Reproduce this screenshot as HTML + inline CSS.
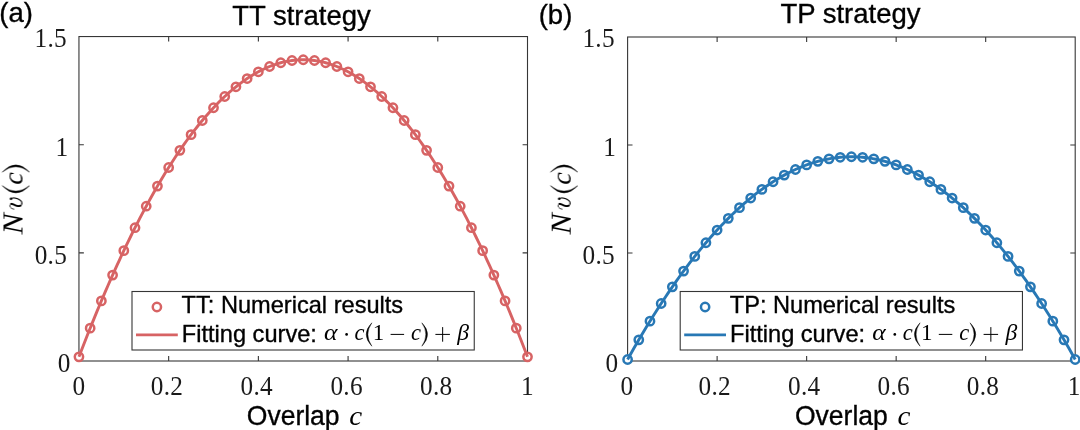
<!DOCTYPE html>
<html><head><meta charset="utf-8"><title>fig</title>
<style>
html,body{margin:0;padding:0;background:#fff;}
body{width:1080px;height:430px;overflow:hidden;}
svg{display:block;}
text{fill:#000;}
.tk{font-family:"Liberation Serif",serif;font-size:26.6px;fill:#1a1a1a;letter-spacing:.3px;}
.ti{font-family:"Liberation Sans",sans-serif;font-size:27.5px;stroke:#000;stroke-width:.35px;}
.lb{font-family:"Liberation Sans",sans-serif;font-size:27.3px;stroke:#000;stroke-width:.35px;}
.lg{font-family:"Liberation Sans",sans-serif;font-size:23.6px;stroke:#000;stroke-width:.35px;}
.mi{font-family:"Liberation Serif",serif;font-style:italic;}
.mr{font-family:"Liberation Serif",serif;font-style:normal;}
</style></head><body>
<svg width="1080" height="430" viewBox="0 0 1080 430">
<rect width="1080" height="430" fill="#fff"/>
<g>
<rect x="78.95" y="36.55" width="448.55" height="324.45" fill="none" stroke="#363636" stroke-width="1.1"/>
<path d="M168.66 361v-4.9M168.66 36.55v4.9M258.37 361v-4.9M258.37 36.55v4.9M348.08 361v-4.9M348.08 36.55v4.9M437.79 361v-4.9M437.79 36.55v4.9M78.95 252.85h4.9M527.5 252.85h-4.9M78.95 144.7h4.9M527.5 144.7h-4.9" stroke="#363636" stroke-width="1.1" fill="none"/>
<circle cx="78.95" cy="356.85" r="4.15" fill="#fff" stroke="#D76364" stroke-width="2.5"/>
<circle cx="90.16" cy="328.19" r="4.15" fill="#fff" stroke="#D76364" stroke-width="2.5"/>
<circle cx="101.38" cy="300.93" r="4.15" fill="#fff" stroke="#D76364" stroke-width="2.5"/>
<circle cx="112.59" cy="275.1" r="4.15" fill="#fff" stroke="#D76364" stroke-width="2.5"/>
<circle cx="123.81" cy="250.69" r="4.15" fill="#fff" stroke="#D76364" stroke-width="2.5"/>
<circle cx="135.02" cy="227.72" r="4.15" fill="#fff" stroke="#D76364" stroke-width="2.5"/>
<circle cx="146.23" cy="206.2" r="4.15" fill="#fff" stroke="#D76364" stroke-width="2.5"/>
<circle cx="157.45" cy="186.12" r="4.15" fill="#fff" stroke="#D76364" stroke-width="2.5"/>
<circle cx="168.66" cy="167.51" r="4.15" fill="#fff" stroke="#D76364" stroke-width="2.5"/>
<circle cx="179.87" cy="150.36" r="4.15" fill="#fff" stroke="#D76364" stroke-width="2.5"/>
<circle cx="191.09" cy="134.68" r="4.15" fill="#fff" stroke="#D76364" stroke-width="2.5"/>
<circle cx="202.3" cy="120.48" r="4.15" fill="#fff" stroke="#D76364" stroke-width="2.5"/>
<circle cx="213.51" cy="107.76" r="4.15" fill="#fff" stroke="#D76364" stroke-width="2.5"/>
<circle cx="224.73" cy="96.52" r="4.15" fill="#fff" stroke="#D76364" stroke-width="2.5"/>
<circle cx="235.94" cy="86.78" r="4.15" fill="#fff" stroke="#D76364" stroke-width="2.5"/>
<circle cx="247.16" cy="78.53" r="4.15" fill="#fff" stroke="#D76364" stroke-width="2.5"/>
<circle cx="258.37" cy="71.78" r="4.15" fill="#fff" stroke="#D76364" stroke-width="2.5"/>
<circle cx="269.58" cy="66.52" r="4.15" fill="#fff" stroke="#D76364" stroke-width="2.5"/>
<circle cx="280.8" cy="62.76" r="4.15" fill="#fff" stroke="#D76364" stroke-width="2.5"/>
<circle cx="292.01" cy="60.51" r="4.15" fill="#fff" stroke="#D76364" stroke-width="2.5"/>
<circle cx="303.23" cy="59.76" r="4.15" fill="#fff" stroke="#D76364" stroke-width="2.5"/>
<circle cx="314.44" cy="60.51" r="4.15" fill="#fff" stroke="#D76364" stroke-width="2.5"/>
<circle cx="325.65" cy="62.76" r="4.15" fill="#fff" stroke="#D76364" stroke-width="2.5"/>
<circle cx="336.87" cy="66.52" r="4.15" fill="#fff" stroke="#D76364" stroke-width="2.5"/>
<circle cx="348.08" cy="71.78" r="4.15" fill="#fff" stroke="#D76364" stroke-width="2.5"/>
<circle cx="359.29" cy="78.53" r="4.15" fill="#fff" stroke="#D76364" stroke-width="2.5"/>
<circle cx="370.51" cy="86.78" r="4.15" fill="#fff" stroke="#D76364" stroke-width="2.5"/>
<circle cx="381.72" cy="96.52" r="4.15" fill="#fff" stroke="#D76364" stroke-width="2.5"/>
<circle cx="392.94" cy="107.76" r="4.15" fill="#fff" stroke="#D76364" stroke-width="2.5"/>
<circle cx="404.15" cy="120.48" r="4.15" fill="#fff" stroke="#D76364" stroke-width="2.5"/>
<circle cx="415.36" cy="134.68" r="4.15" fill="#fff" stroke="#D76364" stroke-width="2.5"/>
<circle cx="426.58" cy="150.36" r="4.15" fill="#fff" stroke="#D76364" stroke-width="2.5"/>
<circle cx="437.79" cy="167.51" r="4.15" fill="#fff" stroke="#D76364" stroke-width="2.5"/>
<circle cx="449" cy="186.12" r="4.15" fill="#fff" stroke="#D76364" stroke-width="2.5"/>
<circle cx="460.22" cy="206.2" r="4.15" fill="#fff" stroke="#D76364" stroke-width="2.5"/>
<circle cx="471.43" cy="227.72" r="4.15" fill="#fff" stroke="#D76364" stroke-width="2.5"/>
<circle cx="482.64" cy="250.69" r="4.15" fill="#fff" stroke="#D76364" stroke-width="2.5"/>
<circle cx="493.86" cy="275.1" r="4.15" fill="#fff" stroke="#D76364" stroke-width="2.5"/>
<circle cx="505.07" cy="300.93" r="4.15" fill="#fff" stroke="#D76364" stroke-width="2.5"/>
<circle cx="516.29" cy="328.19" r="4.15" fill="#fff" stroke="#D76364" stroke-width="2.5"/>
<circle cx="527.5" cy="356.85" r="4.15" fill="#fff" stroke="#D76364" stroke-width="2.5"/>
<polyline points="78.95,356.85 81.19,351 83.44,345.21 85.68,339.48 87.92,333.81 90.16,328.19 92.41,322.62 94.65,317.11 96.89,311.66 99.13,306.27 101.38,300.93 103.62,295.65 105.86,290.43 108.11,285.26 110.35,280.15 112.59,275.1 114.83,270.1 117.08,265.16 119.32,260.28 121.56,255.46 123.81,250.69 126.05,245.98 128.29,241.33 130.53,236.74 132.78,232.2 135.02,227.72 137.26,223.3 139.5,218.94 141.75,214.63 143.99,210.39 146.23,206.2 148.48,202.07 150.72,197.99 152.96,193.98 155.2,190.02 157.45,186.12 159.69,182.28 161.93,178.5 164.17,174.78 166.42,171.11 168.66,167.51 170.9,163.96 173.15,160.47 175.39,157.04 177.63,153.67 179.87,150.36 182.12,147.1 184.36,143.91 186.6,140.77 188.84,137.7 191.09,134.68 193.33,131.72 195.57,128.82 197.82,125.98 200.06,123.2 202.3,120.48 204.54,117.82 206.79,115.21 209.03,112.67 211.27,110.18 213.51,107.76 215.76,105.39 218,103.09 220.24,100.84 222.49,98.65 224.73,96.52 226.97,94.46 229.21,92.45 231.46,90.5 233.7,88.61 235.94,86.78 238.19,85.01 240.43,83.3 242.67,81.65 244.91,80.06 247.16,78.53 249.4,77.06 251.64,75.65 253.88,74.3 256.13,73.01 258.37,71.78 260.61,70.6 262.86,69.49 265.1,68.44 267.34,67.45 269.58,66.52 271.83,65.65 274.07,64.84 276.31,64.09 278.55,63.4 280.8,62.76 283.04,62.19 285.28,61.68 287.53,61.23 289.77,60.84 292.01,60.51 294.25,60.24 296.5,60.03 298.74,59.88 300.98,59.79 303.23,59.76 305.47,59.79 307.71,59.88 309.95,60.03 312.2,60.24 314.44,60.51 316.68,60.84 318.92,61.23 321.17,61.68 323.41,62.19 325.65,62.76 327.9,63.4 330.14,64.09 332.38,64.84 334.62,65.65 336.87,66.52 339.11,67.45 341.35,68.44 343.59,69.49 345.84,70.6 348.08,71.78 350.32,73.01 352.57,74.3 354.81,75.65 357.05,77.06 359.29,78.53 361.54,80.06 363.78,81.65 366.02,83.3 368.26,85.01 370.51,86.78 372.75,88.61 374.99,90.5 377.24,92.45 379.48,94.46 381.72,96.52 383.96,98.65 386.21,100.84 388.45,103.09 390.69,105.39 392.94,107.76 395.18,110.18 397.42,112.67 399.66,115.21 401.91,117.82 404.15,120.48 406.39,123.2 408.63,125.98 410.88,128.82 413.12,131.72 415.36,134.68 417.61,137.7 419.85,140.77 422.09,143.91 424.33,147.1 426.58,150.36 428.82,153.67 431.06,157.04 433.3,160.47 435.55,163.96 437.79,167.51 440.03,171.11 442.28,174.78 444.52,178.5 446.76,182.28 449,186.12 451.25,190.02 453.49,193.98 455.73,197.99 457.97,202.07 460.22,206.2 462.46,210.39 464.7,214.63 466.95,218.94 469.19,223.3 471.43,227.72 473.67,232.2 475.92,236.74 478.16,241.33 480.4,245.98 482.64,250.69 484.89,255.46 487.13,260.28 489.37,265.16 491.62,270.1 493.86,275.1 496.1,280.15 498.34,285.26 500.59,290.43 502.83,295.65 505.07,300.93 507.32,306.27 509.56,311.66 511.8,317.11 514.04,322.62 516.29,328.19 518.53,333.81 520.77,339.48 523.01,345.21 525.26,351 527.5,356.85" fill="none" stroke="#D76364" stroke-width="2.9" stroke-linejoin="round"/>
<rect x="132" y="291.5" width="342.25" height="58.5" fill="#fff" stroke="#363636" stroke-width="1.1"/>
<circle cx="156.9" cy="307" r="4.15" fill="none" stroke="#D76364" stroke-width="2.5"/>
<line x1="136" x2="177.8" y1="334.8" y2="334.8" stroke="#D76364" stroke-width="2.7"/>
<circle cx="346.6" cy="334.4" r="1.35" fill="#000"/>
<path d="M390.6 334.4h13.5M435.4 334.4h14.5M442.65 327.1v14.6" stroke="#000" stroke-width="1" fill="none"/>
<rect x="627.6" y="37" width="447.6" height="324" fill="none" stroke="#363636" stroke-width="1.1"/>
<path d="M717.12 361v-4.9M717.12 37v4.9M806.64 361v-4.9M806.64 37v4.9M896.16 361v-4.9M896.16 37v4.9M985.68 361v-4.9M985.68 37v4.9M627.6 253h4.9M1075.2 253h-4.9M627.6 145h4.9M1075.2 145h-4.9" stroke="#363636" stroke-width="1.1" fill="none"/>
<circle cx="627.6" cy="359.49" r="4.15" fill="#fff" stroke="#2878B5" stroke-width="2.5"/>
<circle cx="638.79" cy="339.84" r="4.15" fill="#fff" stroke="#2878B5" stroke-width="2.5"/>
<circle cx="649.98" cy="321.17" r="4.15" fill="#fff" stroke="#2878B5" stroke-width="2.5"/>
<circle cx="661.17" cy="303.49" r="4.15" fill="#fff" stroke="#2878B5" stroke-width="2.5"/>
<circle cx="672.36" cy="286.81" r="4.15" fill="#fff" stroke="#2878B5" stroke-width="2.5"/>
<circle cx="683.55" cy="271.12" r="4.15" fill="#fff" stroke="#2878B5" stroke-width="2.5"/>
<circle cx="694.74" cy="256.43" r="4.15" fill="#fff" stroke="#2878B5" stroke-width="2.5"/>
<circle cx="705.93" cy="242.74" r="4.15" fill="#fff" stroke="#2878B5" stroke-width="2.5"/>
<circle cx="717.12" cy="230.05" r="4.15" fill="#fff" stroke="#2878B5" stroke-width="2.5"/>
<circle cx="728.31" cy="218.37" r="4.15" fill="#fff" stroke="#2878B5" stroke-width="2.5"/>
<circle cx="739.5" cy="207.69" r="4.15" fill="#fff" stroke="#2878B5" stroke-width="2.5"/>
<circle cx="750.69" cy="198.03" r="4.15" fill="#fff" stroke="#2878B5" stroke-width="2.5"/>
<circle cx="761.88" cy="189.38" r="4.15" fill="#fff" stroke="#2878B5" stroke-width="2.5"/>
<circle cx="773.07" cy="181.74" r="4.15" fill="#fff" stroke="#2878B5" stroke-width="2.5"/>
<circle cx="784.26" cy="175.12" r="4.15" fill="#fff" stroke="#2878B5" stroke-width="2.5"/>
<circle cx="795.45" cy="169.52" r="4.15" fill="#fff" stroke="#2878B5" stroke-width="2.5"/>
<circle cx="806.64" cy="164.93" r="4.15" fill="#fff" stroke="#2878B5" stroke-width="2.5"/>
<circle cx="817.83" cy="161.36" r="4.15" fill="#fff" stroke="#2878B5" stroke-width="2.5"/>
<circle cx="829.02" cy="158.81" r="4.15" fill="#fff" stroke="#2878B5" stroke-width="2.5"/>
<circle cx="840.21" cy="157.28" r="4.15" fill="#fff" stroke="#2878B5" stroke-width="2.5"/>
<circle cx="851.4" cy="156.77" r="4.15" fill="#fff" stroke="#2878B5" stroke-width="2.5"/>
<circle cx="862.59" cy="157.28" r="4.15" fill="#fff" stroke="#2878B5" stroke-width="2.5"/>
<circle cx="873.78" cy="158.81" r="4.15" fill="#fff" stroke="#2878B5" stroke-width="2.5"/>
<circle cx="884.97" cy="161.36" r="4.15" fill="#fff" stroke="#2878B5" stroke-width="2.5"/>
<circle cx="896.16" cy="164.93" r="4.15" fill="#fff" stroke="#2878B5" stroke-width="2.5"/>
<circle cx="907.35" cy="169.52" r="4.15" fill="#fff" stroke="#2878B5" stroke-width="2.5"/>
<circle cx="918.54" cy="175.12" r="4.15" fill="#fff" stroke="#2878B5" stroke-width="2.5"/>
<circle cx="929.73" cy="181.74" r="4.15" fill="#fff" stroke="#2878B5" stroke-width="2.5"/>
<circle cx="940.92" cy="189.38" r="4.15" fill="#fff" stroke="#2878B5" stroke-width="2.5"/>
<circle cx="952.11" cy="198.03" r="4.15" fill="#fff" stroke="#2878B5" stroke-width="2.5"/>
<circle cx="963.3" cy="207.69" r="4.15" fill="#fff" stroke="#2878B5" stroke-width="2.5"/>
<circle cx="974.49" cy="218.37" r="4.15" fill="#fff" stroke="#2878B5" stroke-width="2.5"/>
<circle cx="985.68" cy="230.05" r="4.15" fill="#fff" stroke="#2878B5" stroke-width="2.5"/>
<circle cx="996.87" cy="242.74" r="4.15" fill="#fff" stroke="#2878B5" stroke-width="2.5"/>
<circle cx="1008.06" cy="256.43" r="4.15" fill="#fff" stroke="#2878B5" stroke-width="2.5"/>
<circle cx="1019.25" cy="271.12" r="4.15" fill="#fff" stroke="#2878B5" stroke-width="2.5"/>
<circle cx="1030.44" cy="286.81" r="4.15" fill="#fff" stroke="#2878B5" stroke-width="2.5"/>
<circle cx="1041.63" cy="303.49" r="4.15" fill="#fff" stroke="#2878B5" stroke-width="2.5"/>
<circle cx="1052.82" cy="321.17" r="4.15" fill="#fff" stroke="#2878B5" stroke-width="2.5"/>
<circle cx="1064.01" cy="339.84" r="4.15" fill="#fff" stroke="#2878B5" stroke-width="2.5"/>
<circle cx="1075.2" cy="359.49" r="4.15" fill="#fff" stroke="#2878B5" stroke-width="2.5"/>
<polyline points="627.6,359.49 629.84,355.48 632.08,351.51 634.31,347.58 636.55,343.69 638.79,339.84 641.03,336.03 643.27,332.25 645.5,328.52 647.74,324.83 649.98,321.17 652.22,317.56 654.46,313.98 656.69,310.45 658.93,306.95 661.17,303.49 663.41,300.08 665.65,296.7 667.88,293.36 670.12,290.07 672.36,286.81 674.6,283.59 676.84,280.41 679.07,277.28 681.31,274.18 683.55,271.12 685.79,268.1 688.03,265.12 690.26,262.18 692.5,259.29 694.74,256.43 696.98,253.61 699.22,250.83 701.45,248.09 703.69,245.39 705.93,242.74 708.17,240.12 710.41,237.54 712.64,235 714.88,232.51 717.12,230.05 719.36,227.63 721.6,225.25 723.83,222.92 726.07,220.62 728.31,218.37 730.55,216.15 732.79,213.98 735.02,211.84 737.26,209.75 739.5,207.69 741.74,205.68 743.98,203.71 746.21,201.78 748.45,199.88 750.69,198.03 752.93,196.22 755.17,194.45 757.4,192.72 759.64,191.03 761.88,189.38 764.12,187.77 766.36,186.2 768.59,184.68 770.83,183.19 773.07,181.74 775.31,180.34 777.55,178.97 779.78,177.65 782.02,176.37 784.26,175.12 786.5,173.92 788.74,172.76 790.97,171.64 793.21,170.56 795.45,169.52 797.69,168.52 799.93,167.56 802.16,166.64 804.4,165.77 806.64,164.93 808.88,164.14 811.12,163.38 813.35,162.67 815.59,161.99 817.83,161.36 820.07,160.77 822.31,160.22 824.54,159.71 826.78,159.24 829.02,158.81 831.26,158.42 833.5,158.08 835.73,157.77 837.97,157.51 840.21,157.28 842.45,157.1 844.69,156.96 846.92,156.85 849.16,156.79 851.4,156.77 853.64,156.79 855.88,156.85 858.11,156.96 860.35,157.1 862.59,157.28 864.83,157.51 867.07,157.77 869.3,158.08 871.54,158.42 873.78,158.81 876.02,159.24 878.26,159.71 880.49,160.22 882.73,160.77 884.97,161.36 887.21,161.99 889.45,162.67 891.68,163.38 893.92,164.14 896.16,164.93 898.4,165.77 900.64,166.64 902.87,167.56 905.11,168.52 907.35,169.52 909.59,170.56 911.83,171.64 914.06,172.76 916.3,173.92 918.54,175.12 920.78,176.37 923.02,177.65 925.25,178.97 927.49,180.34 929.73,181.74 931.97,183.19 934.21,184.68 936.44,186.2 938.68,187.77 940.92,189.38 943.16,191.03 945.4,192.72 947.63,194.45 949.87,196.22 952.11,198.03 954.35,199.88 956.59,201.78 958.82,203.71 961.06,205.68 963.3,207.69 965.54,209.75 967.78,211.84 970.01,213.98 972.25,216.15 974.49,218.37 976.73,220.62 978.97,222.92 981.2,225.25 983.44,227.63 985.68,230.05 987.92,232.51 990.16,235 992.39,237.54 994.63,240.12 996.87,242.74 999.11,245.39 1001.35,248.09 1003.58,250.83 1005.82,253.61 1008.06,256.43 1010.3,259.29 1012.54,262.18 1014.77,265.12 1017.01,268.1 1019.25,271.12 1021.49,274.18 1023.73,277.28 1025.96,280.41 1028.2,283.59 1030.44,286.81 1032.68,290.07 1034.92,293.36 1037.15,296.7 1039.39,300.08 1041.63,303.49 1043.87,306.95 1046.11,310.45 1048.34,313.98 1050.58,317.56 1052.82,321.17 1055.06,324.83 1057.3,328.52 1059.53,332.25 1061.77,336.03 1064.01,339.84 1066.25,343.69 1068.49,347.58 1070.72,351.51 1072.96,355.48 1075.2,359.49" fill="none" stroke="#2878B5" stroke-width="2.9" stroke-linejoin="round"/>
<rect x="680.2" y="291.5" width="342.25" height="58.5" fill="#fff" stroke="#363636" stroke-width="1.1"/>
<circle cx="705.1" cy="307" r="4.15" fill="none" stroke="#2878B5" stroke-width="2.5"/>
<line x1="684.2" x2="726" y1="334.8" y2="334.8" stroke="#2878B5" stroke-width="2.7"/>
<circle cx="894.8" cy="334.4" r="1.35" fill="#000"/>
<path d="M938.8 334.4h13.5M983.6 334.4h14.5M990.85 327.1v14.6" stroke="#000" stroke-width="1" fill="none"/>
</g>
<g opacity="0.999">
<text class="tk" transform="translate(79,395) scale(.95,1)" text-anchor="middle">0</text>
<text class="tk" transform="translate(167.05,395) scale(.95,1)" text-anchor="middle">0.2</text>
<text class="tk" transform="translate(256.75,395) scale(.95,1)" text-anchor="middle">0.4</text>
<text class="tk" transform="translate(346.65,395) scale(.95,1)" text-anchor="middle">0.6</text>
<text class="tk" transform="translate(436.2,395) scale(.95,1)" text-anchor="middle">0.8</text>
<text class="tk" transform="translate(527.45,395) scale(.95,1)" text-anchor="middle">1</text>
<text class="tk" transform="translate(70.6,372) scale(.95,1)" text-anchor="end">0</text>
<text class="tk" transform="translate(67.1,264) scale(.95,1)" text-anchor="end">0.5</text>
<text class="tk" transform="translate(68.3,155.9) scale(.95,1)" text-anchor="end">1</text>
<text class="tk" transform="translate(67,47) scale(.95,1)" text-anchor="end">1.5</text>
<text class="ti" x="301.53" y="24.6" text-anchor="middle">TT strategy</text>
<text class="ti" x="-0.7" y="22.2">(a)</text>
<text class="lb" transform="translate(246.75,424.8) scale(.972,1)">Overlap</text>
<text class="mi" font-size="28" transform="translate(349.2,424.7) scale(1.04,1)">c</text>
<g transform="translate(22.5,235) rotate(-90)"><text class="mi" font-size="30.3" transform="translate(0.6,0) scale(1.055,1)">N</text><path d="M25.9 -8.7C25.98 -8.98 26.07 -9.82 26.4 -10.4C26.72 -10.98 27.28 -11.85 27.85 -12.2C28.42 -12.55 29.24 -12.65 29.8 -12.5C30.36 -12.35 30.97 -11.5 31.2 -11.3" fill="none" stroke="#000" stroke-width=".9" stroke-linecap="round"/><path d="M31.2 -11.3C31.12 -10.98 31 -10.2 30.7 -9.4C30.4 -8.6 29.7 -7.43 29.4 -6.5C29.1 -5.57 28.9 -4.55 28.9 -3.8C28.9 -3.05 29.32 -2.3 29.4 -2" fill="none" stroke="#000" stroke-width="1.9" stroke-linecap="round"/><path d="M28.9 -3.6C29 -3.25 29.07 -2 29.5 -1.5C29.93 -1 30.72 -0.57 31.5 -0.6C32.28 -0.63 33.4 -0.97 34.2 -1.7C35 -2.43 35.82 -3.8 36.3 -5C36.78 -6.2 37.08 -7.85 37.1 -8.9C37.12 -9.95 36.52 -10.9 36.4 -11.3" fill="none" stroke="#000" stroke-width="1.1" stroke-linecap="round"/><circle cx="36.2" cy="-11.4" r="1.25" fill="#000"/><path d="M49.28 -20.3Q34.72 -6.65 49.28 7Q38.52 -6.65 49.28 -20.3Z" fill="#000" stroke="#000" stroke-width=".45" stroke-linejoin="round"/><text class="mi" font-size="27.5" transform="translate(50.2,0) scale(1.03,1)">c</text><path d="M62.9 -20.3Q77.46 -6.65 62.9 7Q73.66 -6.65 62.9 -20.3Z" fill="#000" stroke="#000" stroke-width=".45" stroke-linejoin="round"/></g>
<text class="lg" x="181.6" y="313.2">TT: Numerical results</text>
<text class="lg" x="181.8" y="342.2">Fitting curve:</text>
<text class="mi" font-size="22.5" transform="translate(324,340.2) scale(1.14,1)">α</text>
<text class="mi" font-size="22.5" transform="translate(354.5,340.2)">c</text>
<path d="M371.84 322.8Q360.56 334.5 371.84 346.2Q363.96 334.5 371.84 322.8Z" fill="#000" stroke="#000" stroke-width=".45" stroke-linejoin="round"/>
<text class="mr" font-size="23" transform="translate(372.8,340.2)">1</text>
<text class="mi" font-size="22.5" transform="translate(411,340.2)">c</text>
<path d="M421.9 322.8Q433.18 334.5 421.9 346.2Q429.78 334.5 421.9 322.8Z" fill="#000" stroke="#000" stroke-width=".45" stroke-linejoin="round"/>
<text class="mi" font-size="23.6" transform="translate(457.2,340.2)">β</text>
<text class="tk" transform="translate(626.85,395) scale(.95,1)" text-anchor="middle">0</text>
<text class="tk" transform="translate(714.75,395) scale(.95,1)" text-anchor="middle">0.2</text>
<text class="tk" transform="translate(804.25,395) scale(.95,1)" text-anchor="middle">0.4</text>
<text class="tk" transform="translate(893.75,395) scale(.95,1)" text-anchor="middle">0.6</text>
<text class="tk" transform="translate(983.05,395) scale(.95,1)" text-anchor="middle">0.8</text>
<text class="tk" transform="translate(1074.15,395) scale(.95,1)" text-anchor="middle">1</text>
<text class="tk" transform="translate(618.5,372) scale(.95,1)" text-anchor="end">0</text>
<text class="tk" transform="translate(615,264) scale(.95,1)" text-anchor="end">0.5</text>
<text class="tk" transform="translate(616.2,155.9) scale(.95,1)" text-anchor="end">1</text>
<text class="tk" transform="translate(614.9,47) scale(.95,1)" text-anchor="end">1.5</text>
<text class="ti" x="850.5" y="23.3" text-anchor="middle">TP strategy</text>
<text class="ti" x="538.7" y="24">(b)</text>
<text class="lb" transform="translate(794.95,424.8) scale(.972,1)">Overlap</text>
<text class="mi" font-size="28" transform="translate(897.4,424.7) scale(1.04,1)">c</text>
<g transform="translate(570.7,235) rotate(-90)"><text class="mi" font-size="30.3" transform="translate(0.6,0) scale(1.055,1)">N</text><path d="M25.9 -8.7C25.98 -8.98 26.07 -9.82 26.4 -10.4C26.72 -10.98 27.28 -11.85 27.85 -12.2C28.42 -12.55 29.24 -12.65 29.8 -12.5C30.36 -12.35 30.97 -11.5 31.2 -11.3" fill="none" stroke="#000" stroke-width=".9" stroke-linecap="round"/><path d="M31.2 -11.3C31.12 -10.98 31 -10.2 30.7 -9.4C30.4 -8.6 29.7 -7.43 29.4 -6.5C29.1 -5.57 28.9 -4.55 28.9 -3.8C28.9 -3.05 29.32 -2.3 29.4 -2" fill="none" stroke="#000" stroke-width="1.9" stroke-linecap="round"/><path d="M28.9 -3.6C29 -3.25 29.07 -2 29.5 -1.5C29.93 -1 30.72 -0.57 31.5 -0.6C32.28 -0.63 33.4 -0.97 34.2 -1.7C35 -2.43 35.82 -3.8 36.3 -5C36.78 -6.2 37.08 -7.85 37.1 -8.9C37.12 -9.95 36.52 -10.9 36.4 -11.3" fill="none" stroke="#000" stroke-width="1.1" stroke-linecap="round"/><circle cx="36.2" cy="-11.4" r="1.25" fill="#000"/><path d="M49.28 -20.3Q34.72 -6.65 49.28 7Q38.52 -6.65 49.28 -20.3Z" fill="#000" stroke="#000" stroke-width=".45" stroke-linejoin="round"/><text class="mi" font-size="27.5" transform="translate(50.2,0) scale(1.03,1)">c</text><path d="M62.9 -20.3Q77.46 -6.65 62.9 7Q73.66 -6.65 62.9 -20.3Z" fill="#000" stroke="#000" stroke-width=".45" stroke-linejoin="round"/></g>
<text class="lg" x="729.8" y="313.2">TP: Numerical results</text>
<text class="lg" x="730" y="342.2">Fitting curve:</text>
<text class="mi" font-size="22.5" transform="translate(872.2,340.2) scale(1.14,1)">α</text>
<text class="mi" font-size="22.5" transform="translate(902.7,340.2)">c</text>
<path d="M920.04 322.8Q908.76 334.5 920.04 346.2Q912.16 334.5 920.04 322.8Z" fill="#000" stroke="#000" stroke-width=".45" stroke-linejoin="round"/>
<text class="mr" font-size="23" transform="translate(921,340.2)">1</text>
<text class="mi" font-size="22.5" transform="translate(959.2,340.2)">c</text>
<path d="M970.1 322.8Q981.38 334.5 970.1 346.2Q977.98 334.5 970.1 322.8Z" fill="#000" stroke="#000" stroke-width=".45" stroke-linejoin="round"/>
<text class="mi" font-size="23.6" transform="translate(1005.4,340.2)">β</text>
</g>
</svg>
</body></html>
